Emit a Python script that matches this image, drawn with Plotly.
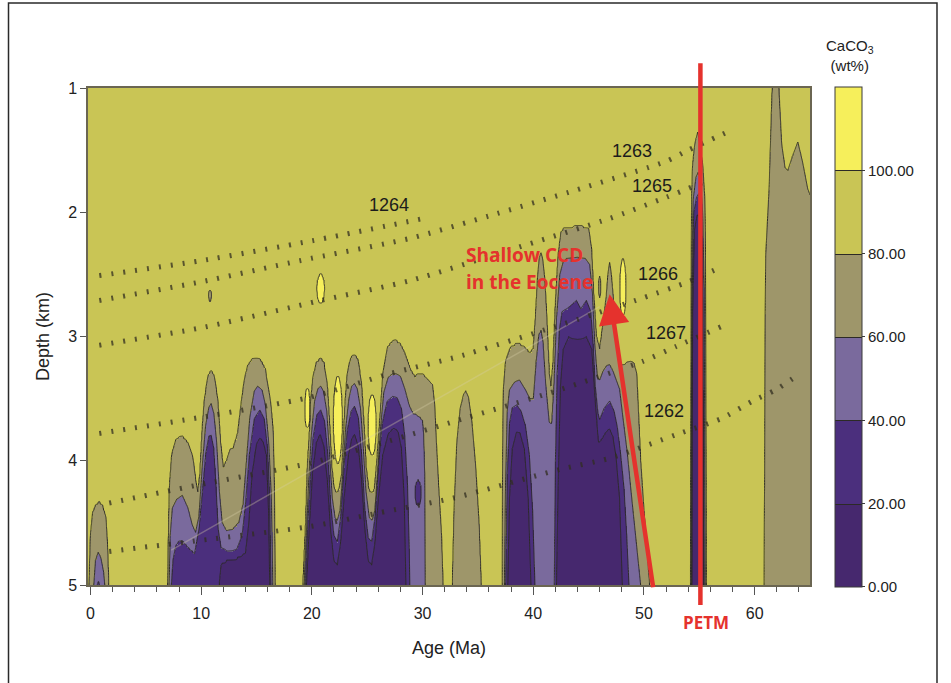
import numpy as np
import plotly.graph_objects as go

# ---------------------------------------------------------------------------
# CaCO3 (wt%) versus age and palaeodepth, Walvis Ridge transect
# ---------------------------------------------------------------------------

DEEP = 6.0  # a contour that sits below the plotted depth range (km)

# Depth (km) of the top of each CaCO3 class along age (Ma): (age, depth)
TOP80 = [
    (-0.25, DEEP), (-0.12, 5.0), (0.0, 4.6), (0.2, 4.42), (0.5, 4.36), (0.8, 4.34), (1.1, 4.37),
    (1.4, 4.46), (1.55, 4.7), (1.65, 5.0), (1.75, DEEP),
    (6.9, DEEP), (6.98, 5.0), (7.05, 4.6), (7.14, 4.21), (7.35, 3.95), (7.74, 3.83), (8.3, 3.81),
    (8.8, 3.86), (9.24, 3.97), (9.5, 4.15), (9.7, 4.25), (9.9, 4.1), (10.1, 3.75), (10.3, 3.51),
    (10.6, 3.33), (10.9, 3.28), (11.2, 3.33), (11.5, 3.51), (11.75, 3.85), (12.0, 4.06), (12.3, 4.0),
    (12.6, 3.92), (12.9, 3.9), (13.3, 3.78), (13.6, 3.55), (13.9, 3.35), (14.2, 3.24), (14.6, 3.19),
    (15.0, 3.18), (15.4, 3.2), (15.8, 3.27), (16.0, 3.38), (16.3, 3.55), (16.5, 3.75), (16.62, 4.2),
    (16.68, 5.0), (16.75, DEEP),
    (19.1, DEEP), (19.2, 5.0), (19.45, 4.5), (19.6, 4.05), (19.8, 3.75), (19.9, 3.52), (20.1, 3.33),
    (20.4, 3.22), (20.8, 3.18), (21.1, 3.22), (21.4, 3.4), (21.6, 3.7), (21.8, 4.05), (22.0, 4.22),
    (22.2, 4.27), (22.45, 4.24), (22.7, 4.1), (22.85, 3.85), (23.0, 3.55), (23.2, 3.3), (23.5, 3.18),
    (23.85, 3.15), (24.2, 3.2), (24.5, 3.4), (24.7, 3.7), (24.9, 4.05), (25.15, 4.24), (25.4, 4.27),
    (25.65, 4.24), (25.9, 3.98), (26.2, 3.6), (26.45, 3.28), (26.8, 3.1), (27.2, 3.05), (27.6, 3.04),
    (28.0, 3.07), (28.4, 3.14), (28.9, 3.27), (29.3, 3.33), (29.6, 3.31), (30.0, 3.31), (30.4, 3.34),
    (30.9, 3.39), (31.1, 3.55), (31.25, 3.85), (31.45, 4.2), (31.7, 4.58), (31.85, 5.0), (31.95, DEEP),
    (32.6, DEEP), (32.7, 5.0), (32.85, 4.4), (33.1, 3.85), (33.4, 3.58), (33.7, 3.47), (33.9, 3.44),
    (34.15, 3.49), (34.45, 3.68), (34.8, 4.05), (35.1, 4.5), (35.3, 5.0), (35.4, DEEP),
    (37.1, DEEP), (37.2, 5.0), (37.23, 4.0), (37.28, 3.45), (37.5, 3.2), (37.9, 3.1), (38.4, 3.07),
    (38.8, 3.07), (39.3, 3.1), (39.7, 3.14), (40.0, 3.1), (40.2, 2.85), (40.4, 2.52), (40.55, 2.37),
    (40.7, 2.33), (40.85, 2.38), (41.05, 2.55), (41.25, 2.9), (41.45, 3.3), (41.6, 3.4), (41.8, 3.2),
    (42.0, 2.75), (42.25, 2.35), (42.5, 2.17), (42.8, 2.13), (43.3, 2.13), (43.8, 2.12), (44.4, 2.12),
    (45.0, 2.14), (45.25, 2.28), (45.45, 2.65), (45.7, 3.0), (46.0, 3.1), (46.3, 2.9), (46.6, 2.68),
    (46.75, 2.5), (46.9, 2.41), (47.05, 2.5), (47.25, 2.72), (47.45, 2.98), (47.7, 3.2), (48.0, 3.24),
    (48.4, 3.22), (48.8, 3.2), (49.1, 3.22), (49.35, 3.3), (49.5, 3.6), (49.7, 4.0), (50.0, 4.4),
    (50.3, 4.75), (50.5, 5.0), (50.6, DEEP),
    (54.15, DEEP), (54.22, 5.0), (54.26, 2.6), (54.3, 1.94), (54.4, 1.62), (54.6, 1.45), (54.86, 1.36),
    (55.05, 1.45), (55.3, 1.62), (55.5, 1.9), (55.58, 2.3), (55.62, 5.0), (55.7, DEEP),
    (60.8, DEEP), (60.88, 5.0), (60.93, 3.0), (61.0, 2.34), (61.3, 1.81), (61.55, 1.05), (61.7, 0.85),
    (62.05, 0.85), (62.2, 1.0), (62.45, 1.45), (62.75, 1.64), (63.0, 1.66), (63.4, 1.55), (63.9, 1.43),
    (64.3, 1.58), (64.8, 1.81), (65.1, 1.88),
]

TOP60 = [
    (0.15, DEEP), (0.3, 5.0), (0.45, 4.8), (0.7, 4.74), (0.95, 4.78), (1.2, 4.9), (1.3, 5.0), (1.4, DEEP),
    (7.0, DEEP), (7.1, 5.0), (7.2, 4.6), (7.4, 4.38), (7.8, 4.31), (8.3, 4.28), (8.8, 4.38), (9.2, 4.52),
    (9.5, 4.58), (9.8, 4.45), (10.1, 4.05), (10.4, 3.72), (10.7, 3.57), (10.9, 3.54), (11.15, 3.62),
    (11.4, 3.85), (11.65, 4.25), (11.9, 4.5), (12.3, 4.57), (12.8, 4.56), (13.4, 4.5), (13.8, 4.35),
    (14.1, 4.0), (14.4, 3.65), (14.8, 3.44), (15.1, 3.40), (15.5, 3.43), (15.8, 3.55), (16.1, 3.85),
    (16.35, 4.3), (16.48, 5.0), (16.55, DEEP),
    (19.2, DEEP), (19.3, 5.0), (19.5, 4.6), (19.7, 4.2), (19.95, 3.8), (20.25, 3.52), (20.55, 3.42),
    (20.8, 3.40), (21.05, 3.44), (21.35, 3.6), (21.6, 3.95), (21.85, 4.3), (22.1, 4.46), (22.3, 4.48),
    (22.55, 4.4), (22.8, 4.1), (23.05, 3.75), (23.35, 3.5), (23.6, 3.4), (23.85, 3.38), (24.1, 3.42),
    (24.4, 3.58), (24.65, 3.9), (24.9, 4.25), (25.2, 4.46), (25.45, 4.48), (25.7, 4.4), (25.95, 4.1),
    (26.2, 3.75), (26.5, 3.45), (26.9, 3.33), (27.3, 3.3), (27.6, 3.30), (28.0, 3.32), (28.4, 3.42),
    (28.8, 3.55), (29.2, 3.62), (29.6, 3.63), (30.0, 3.67), (30.12, 3.8), (30.2, 4.1), (30.24, 5.0),
    (30.32, DEEP),
    (37.3, DEEP), (37.4, 5.0), (37.5, 4.2), (37.65, 3.6), (37.85, 3.43), (38.3, 3.37), (38.75, 3.35),
    (39.3, 3.43), (39.7, 3.5), (40.0, 3.5), (40.25, 3.2), (40.5, 2.98), (40.7, 2.95), (40.9, 3.05),
    (41.15, 3.4), (41.45, 3.68), (41.65, 3.7), (41.85, 3.4), (42.1, 2.85), (42.4, 2.5), (42.7, 2.4),
    (43.0, 2.37), (44.0, 2.36), (44.7, 2.37), (45.1, 2.42), (45.35, 2.65), (45.55, 3.05), (45.8, 3.33),
    (46.0, 3.35), (46.3, 3.28), (46.6, 3.24), (46.9, 3.23), (47.2, 3.28), (47.5, 3.35), (47.8, 3.42),
    (48.1, 3.65), (48.5, 3.94), (48.9, 4.3), (49.3, 4.65), (49.7, 5.0), (49.8, DEEP),
    (54.2, DEEP), (54.27, 5.0), (54.32, 2.5), (54.45, 1.9), (54.7, 1.72), (54.9, 1.68), (55.1, 1.74),
    (55.3, 2.0), (55.45, 2.6), (55.52, 5.0), (55.6, DEEP),
]

TOP40 = [
    (0.45, DEEP), (0.6, 5.0), (0.72, 4.96), (0.85, 5.0), (0.95, DEEP),
    (7.2, DEEP), (7.3, 5.0), (7.45, 4.8), (7.7, 4.68), (8.0, 4.64), (8.4, 4.65), (8.9, 4.7), (9.4, 4.74),
    (9.8, 4.55), (10.1, 4.25), (10.4, 3.95), (10.7, 3.8), (10.9, 3.78), (11.15, 3.9), (11.35, 4.2),
    (11.55, 4.55), (11.8, 4.7), (12.4, 4.73), (13.2, 4.72), (13.7, 4.6), (14.0, 4.35), (14.35, 3.95),
    (14.8, 3.66), (15.3, 3.59), (15.7, 3.66), (16.0, 3.9), (16.2, 4.3), (16.32, 5.0), (16.4, DEEP),
    (19.3, DEEP), (19.4, 5.0), (19.6, 4.55), (19.85, 4.15), (20.1, 3.82), (20.45, 3.63), (20.8, 3.59),
    (21.15, 3.68), (21.45, 3.95), (21.7, 4.35), (22.0, 4.6), (22.3, 4.65), (22.6, 4.45), (22.9, 4.05),
    (23.2, 3.75), (23.55, 3.6), (23.85, 3.56), (24.2, 3.65), (24.5, 3.95), (24.8, 4.4), (25.1, 4.62),
    (25.4, 4.65), (25.7, 4.45), (26.0, 4.05), (26.35, 3.7), (26.8, 3.52), (27.3, 3.48), (27.7, 3.49),
    (28.1, 3.58), (28.4, 3.8), (28.65, 4.2), (28.8, 4.7), (28.85, 5.0), (28.95, DEEP),
    (37.4, DEEP), (37.5, 5.0), (37.65, 4.1), (37.85, 3.7), (38.1, 3.57), (38.5, 3.55), (38.9, 3.6),
    (39.3, 3.72), (39.65, 3.95), (39.95, 4.4), (40.15, 5.0), (40.25, DEEP),
    (41.8, DEEP), (41.9, 5.0), (42.0, 4.0), (42.15, 3.3), (42.35, 2.95), (42.6, 2.8), (43.0, 2.78),
    (43.3, 2.76), (43.9, 2.71), (44.3, 2.78), (44.8, 2.71), (45.2, 2.8), (45.4, 3.05), (45.6, 3.4),
    (45.85, 3.62), (46.0, 3.67), (46.4, 3.58), (46.9, 3.52), (47.3, 3.6), (47.6, 3.73), (47.9, 3.95),
    (48.2, 4.21), (48.45, 4.6), (48.65, 5.0), (48.75, DEEP),
    (54.25, DEEP), (54.3, 5.0), (54.36, 2.6), (54.5, 2.0), (54.75, 1.88), (54.95, 1.85), (55.15, 1.95),
    (55.3, 2.3), (55.42, 5.0), (55.5, DEEP),
]

TOP20 = [
    (11.5, DEEP), (11.62, 5.0), (11.8, 4.83), (12.3, 4.8), (13.2, 4.78), (14.0, 4.74), (14.3, 4.5),
    (14.6, 4.1), (15.0, 3.86), (15.3, 3.81), (15.6, 3.84), (15.9, 3.95), (16.1, 4.4), (16.2, 5.0),
    (16.3, DEEP),
    (19.4, DEEP), (19.5, 5.0), (19.75, 4.55), (20.05, 4.1), (20.4, 3.85), (20.75, 3.78), (21.1, 3.88),
    (21.4, 4.15), (21.7, 4.55), (22.0, 4.8), (22.3, 4.83), (22.6, 4.65), (22.9, 4.3), (23.3, 3.95),
    (23.6, 3.82), (23.85, 3.78), (24.2, 3.88), (24.5, 4.15), (24.8, 4.55), (25.1, 4.8), (25.4, 4.83),
    (25.7, 4.65), (26.0, 4.3), (26.4, 3.95), (26.9, 3.78), (27.4, 3.73), (27.8, 3.76), (28.1, 3.9),
    (28.35, 4.3), (28.5, 5.0), (28.6, DEEP),
    (37.6, DEEP), (37.7, 5.0), (37.85, 4.3), (38.1, 3.9), (38.5, 3.76), (38.8, 3.77), (39.2, 3.9),
    (39.55, 4.3), (39.8, 5.0), (39.9, DEEP),
    (42.0, DEEP), (42.1, 5.0), (42.25, 4.2), (42.45, 3.4), (42.7, 3.1), (43.2, 3.0), (44.0, 3.02),
    (44.8, 3.0), (45.3, 3.1), (45.6, 3.5), (45.9, 3.85), (46.2, 3.82), (46.6, 3.76), (46.9, 3.74),
    (47.2, 3.8), (47.5, 3.98), (47.8, 4.3), (48.05, 5.0), (48.15, DEEP),
    (54.3, DEEP), (54.34, 5.0), (54.4, 2.8), (54.55, 2.15), (54.8, 2.02), (55.0, 2.02), (55.2, 2.2),
    (55.32, 2.8), (55.38, 5.0), (55.45, DEEP),
]

# Isolated pockets: (age, top km, bottom km, half-width Ma, class edge, +1 above / -1 below)
LENSES = [
    (20.8, 2.49, 2.74, 0.36, 100, +1),
    (19.6, 3.41, 3.75, 0.25, 100, +1),
    (22.35, 3.31, 4.03, 0.42, 100, +1),
    (25.45, 3.46, 3.97, 0.38, 100, +1),
    (48.1, 2.37, 2.84, 0.30, 100, +1),
    (10.8, 2.63, 2.71, 0.13, 80, -1),
    (46.0, 2.52, 2.68, 0.10, 80, -1),
    (29.6, 4.15, 4.37, 0.30, 40, -1),
]

# Backtracked palaeodepth paths of the drill sites: (age Ma, depth km)
SITE_NAMES = ["1263", "1265", "1264", "1266", "1267", "1262"]
SITE_TRACKS = {
    "1264": [(0.8, 2.51), (10.0, 2.39), (20.0, 2.23), (30.1, 2.05)],
    "1263": [(0.8, 2.71), (10.0, 2.56), (18.9, 2.39), (28.9, 2.21), (36.0, 2.03), (43.9, 1.82),
             (52.0, 1.59), (54.0, 1.50), (57.9, 1.34)],
    "1265": [(0.8, 3.07), (10.0, 2.93), (20.8, 2.71), (28.9, 2.55), (38.0, 2.30), (46.9, 2.05),
             (52.0, 1.88), (55.9, 1.74)],
    "1266": [(0.8, 3.78), (10.0, 3.65), (19.8, 3.49), (27.0, 3.30), (33.3, 3.16), (42.0, 2.92),
             (49.9, 2.69), (54.0, 2.56), (57.0, 2.44)],
    "1267": [(1.7, 4.34), (10.0, 4.19), (19.8, 4.02), (27.0, 3.84), (33.0, 3.68), (42.0, 3.44),
             (49.9, 3.20), (52.9, 3.08), (57.0, 2.92)],
    "1262": [(1.7, 4.73), (10.0, 4.64), (19.8, 4.53), (26.0, 4.42), (32.8, 4.30), (42.4, 4.07),
             (46.9, 3.98), (52.9, 3.79), (57.0, 3.66), (59.8, 3.52), (61.9, 3.43), (63.9, 3.31)],
}
SITE_LABEL_AT = {
    "1263": (48.9, 1.51), "1265": (50.75, 1.79), "1264": (27.0, 1.94),
    "1266": (51.25, 2.50), "1267": (52.0, 2.97), "1262": (51.85, 3.60),
}

DRIFT_LINE = [(7.3, 4.72), (46.0, 2.76)]
PETM_AGE = 55.1
CCD_ARROW_TAIL = (50.85, 5.03)
CCD_ARROW_HEAD = (46.9, 2.66)

BAND_EDGES = [0, 20, 40, 60, 80, 100, 120]
BAND_COLORS = ["#46286e", "#4b2f7d", "#7a6a9d", "#9e966a", "#c9c555", "#f6ef5b"]

FONT = "Liberation Sans, Arial, sans-serif"
RED = "#e5322d"

# ---------------------------------------------------------------------------
# Gridded CaCO3 field built from the class boundaries
# ---------------------------------------------------------------------------
ages = np.round(np.arange(-0.25, 65.0 + 1e-9, 0.05), 3)
depths = np.round(np.arange(1.0, 5.0 + 1e-9, 0.025), 3)


def level_depth(knots):
    a = np.array([k[0] for k in knots])
    d = np.array([k[1] for k in knots])
    return np.interp(ages, a, d, left=DEEP, right=DEEP)


d80 = level_depth(TOP80)
d60 = np.maximum(level_depth(TOP60), d80 + 0.01)
d40 = np.maximum(level_depth(TOP40), d60 + 0.01)
d20 = np.maximum(level_depth(TOP20), d40 + 0.01)

z = np.empty((depths.size, ages.size))
for j in range(ages.size):
    nodes = [0.0, d80[j], d60[j], d40[j], d20[j], d20[j] + 1.0]
    z[:, j] = np.interp(depths, nodes, [96, 80, 60, 40, 20, 2])

A, D = np.meshgrid(ages, depths)
for a0, top, bot, hw, edge, sign in LENSES:
    mid, hh = (top + bot) / 2, (bot - top) / 2
    r2 = ((A - a0) / hw) ** 2 + ((D - mid) / hh) ** 2
    bump = edge + sign * 20 * (1 - r2)
    merged = np.maximum(z, bump) if sign > 0 else np.minimum(z, bump)
    z = np.where(r2 < 1, merged, z)

scale = []
for i, c in enumerate(BAND_COLORS):
    scale += [[i / 6, c], [(i + 1) / 6, c]]

fig = go.Figure()
fig.add_trace(go.Contour(
    x=ages, y=depths, z=np.round(z, 2),
    zmin=BAND_EDGES[0], zmax=BAND_EDGES[-1], colorscale=scale,
    autocontour=False,
    contours=dict(start=20, end=100, size=20, coloring="heatmap", showlines=True),
    line=dict(color="#2c2a26", width=1, smoothing=0),
    hoverinfo="skip",
    colorbar=dict(
        x=1.0346, xanchor="left", xpad=0,
        y=0.499, yanchor="middle", ypad=0,
        len=500, lenmode="pixels", thickness=27,
        outlinecolor="#3a3a3a", outlinewidth=1,
        tickmode="array", tickvals=BAND_EDGES[:-1],
        ticktext=[f"{v:.2f}" for v in BAND_EDGES[:-1]],
        ticks="outside", ticklen=3, tickcolor="#3a3a3a",
        tickfont=dict(family=FONT, size=15, color="#222"),
    ),
))

# faint drift line
fig.add_trace(go.Scatter(
    x=[p[0] for p in DRIFT_LINE], y=[p[1] for p in DRIFT_LINE], mode="lines",
    line=dict(color="rgba(215,205,165,0.35)", width=1.5), hoverinfo="skip", showlegend=False,
))

# site palaeodepth paths, drawn as short vertical ticks
for name in SITE_NAMES:
    track = SITE_TRACKS[name]
    fig.add_trace(go.Scatter(
        x=[p[0] for p in track], y=[p[1] for p in track], mode="lines",
        line=dict(color="rgba(50,46,32,0.75)", width=5, dash="2px,10px", shape="spline", smoothing=0.6),
        hoverinfo="skip", showlegend=False,
    ))

annotations = []
for name in SITE_NAMES:
    ax_, ay_ = SITE_LABEL_AT[name]
    annotations.append(dict(x=ax_, y=ay_, xref="x", yref="y", text=name, showarrow=False,
                            font=dict(family=FONT, size=18, color="#1c1c1c")))

annotations += [
    dict(x=33.75, y=2.344, xref="x", yref="y", text="<b>Shallow CCD</b>", showarrow=False,
         xanchor="left", font=dict(family="Open Sans", size=19, color=RED)),
    dict(x=33.75, y=2.561, xref="x", yref="y", text="<b>in the Eocene</b>", showarrow=False,
         xanchor="left", font=dict(family="Open Sans", size=19, color=RED)),
    dict(x=55.6, y=-0.076, xref="x", yref="paper", yanchor="middle", text="<b>PETM</b>",
         showarrow=False, font=dict(family="Open Sans", size=17, color=RED)),
    dict(x=CCD_ARROW_HEAD[0], y=CCD_ARROW_HEAD[1], xref="x", yref="y",
         ax=CCD_ARROW_TAIL[0], ay=CCD_ARROW_TAIL[1], axref="x", ayref="y",
         text="", showarrow=True, arrowhead=2, arrowsize=1.35, arrowwidth=4.5, arrowcolor=RED),
    dict(x=1.0554, y=1.024, xref="paper", yref="paper", xanchor="center", yanchor="bottom",
         text="CaCO<sub>3</sub><br>(wt%)", showarrow=False,
         font=dict(family=FONT, size=15, color="#222")),
]

shapes = [
    dict(type="line", xref="x", yref="paper", x0=PETM_AGE, x1=PETM_AGE, y0=-0.04, y1=1.05,
         line=dict(color=RED, width=4.5), layer="above"),
    dict(type="rect", xref="paper", yref="paper", x0=-0.1101, x1=1.1759, y0=-0.25, y1=1.171,
         line=dict(color="#2a2a2a", width=1.5), fillcolor="rgba(0,0,0,0)", layer="above"),
]

axis_common = dict(
    showline=True, linecolor="#6b6652", linewidth=1.5, mirror=True,
    showgrid=False, zeroline=False, ticks="outside", tickcolor="#555",
    tickfont=dict(family=FONT, size=16, color="#222"),
)

fig.update_layout(
    width=951, height=683,
    margin=dict(l=88, r=141, t=88, b=98),
    paper_bgcolor="white", plot_bgcolor=BAND_COLORS[4],
    showlegend=False,
    font=dict(family=FONT, color="#222"),
    xaxis=dict(
        range=[-0.22, 65.0], tickmode="array", tickvals=list(range(0, 61, 10)),
        ticklen=8, tickwidth=1.2, ticklabelstandoff=5,
        minor=dict(dtick=2, tick0=0, ticks="outside", ticklen=5, tickcolor="#555", tickwidth=1),
        title=dict(text="Age (Ma)", font=dict(family=FONT, size=18, color="#222"), standoff=20),
        **axis_common,
    ),
    yaxis=dict(
        range=[5, 1], tickmode="array", tickvals=[1, 2, 3, 4, 5],
        ticklen=6, tickwidth=1.2,
        title=dict(text="Depth (km)", font=dict(family=FONT, size=18, color="#222"), standoff=14),
        **axis_common,
    ),
    annotations=annotations,
    shapes=shapes,
)

fig.write_html("out.html")
